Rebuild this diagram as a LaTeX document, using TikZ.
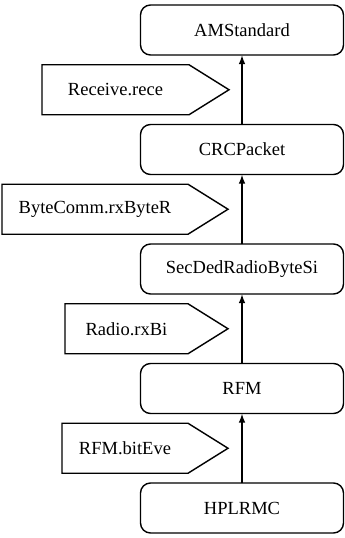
\documentclass[tikz,border=0pt]{standalone}
\usepackage{fontspec}
\setmainfont{Liberation Serif}
\usetikzlibrary{positioning,arrows.meta,shapes.symbols,calc}

\begin{document}
\begin{tikzpicture}[
    x=1pt, y=1pt,
    node distance=69.5pt,
    >={Latex[length=9pt,width=6.5pt]},
    line width=1.4pt,
    every node/.style={font=\fontsize{18.5}{22}\selectfont, outer sep=0pt},
    module/.style={draw, rectangle, rounded corners=10pt, minimum width=203pt, minimum height=50pt},
    event/.style={draw, signal, signal to=east, signal pointer angle=64, minimum height=50pt, minimum width=#1, anchor=east}
  ]
    \useasboundingbox (0,0) rectangle (345,-538);
    % Component stack
    \node[module] (amstd) at (242,-30) {AMStandard};
    \node[module] (crc)    [below=of amstd] {CRCPacket};
    \node[module] (secded) [below=of crc] {SecDedRadioByteSi};
    \node[module] (rfm)    [below=of secded] {RFM};
    \node[module] (hplrmc) [below=of rfm] {HPLRMC};
    % Events passed upwards
    \node[event=187pt] (rece)   at ($(amstd.south)!.5!(crc.north)+(-13,0)$) {Receive.rece};
    \node[event=226pt] (rxbyte) at ($(crc.south)!.5!(secded.north)+(-14,0)$) {ByteComm.rxByteR};
    \node[event=163pt] (rxbit)  at ($(secded.south)!.5!(rfm.north)+(-14,0)$) {Radio.rxBi};
    \node[event=166pt] (biteve) at ($(rfm.south)!.5!(hplrmc.north)+(-14,0)$) {RFM.bitEve};
    % Arrows
    \draw[->] (crc) -- (amstd);
    \draw[->] (secded) -- (crc);
    \draw[->] (rfm) -- (secded);
    \draw[->] (hplrmc) -- (rfm);
  \end{tikzpicture}
\end{document}
